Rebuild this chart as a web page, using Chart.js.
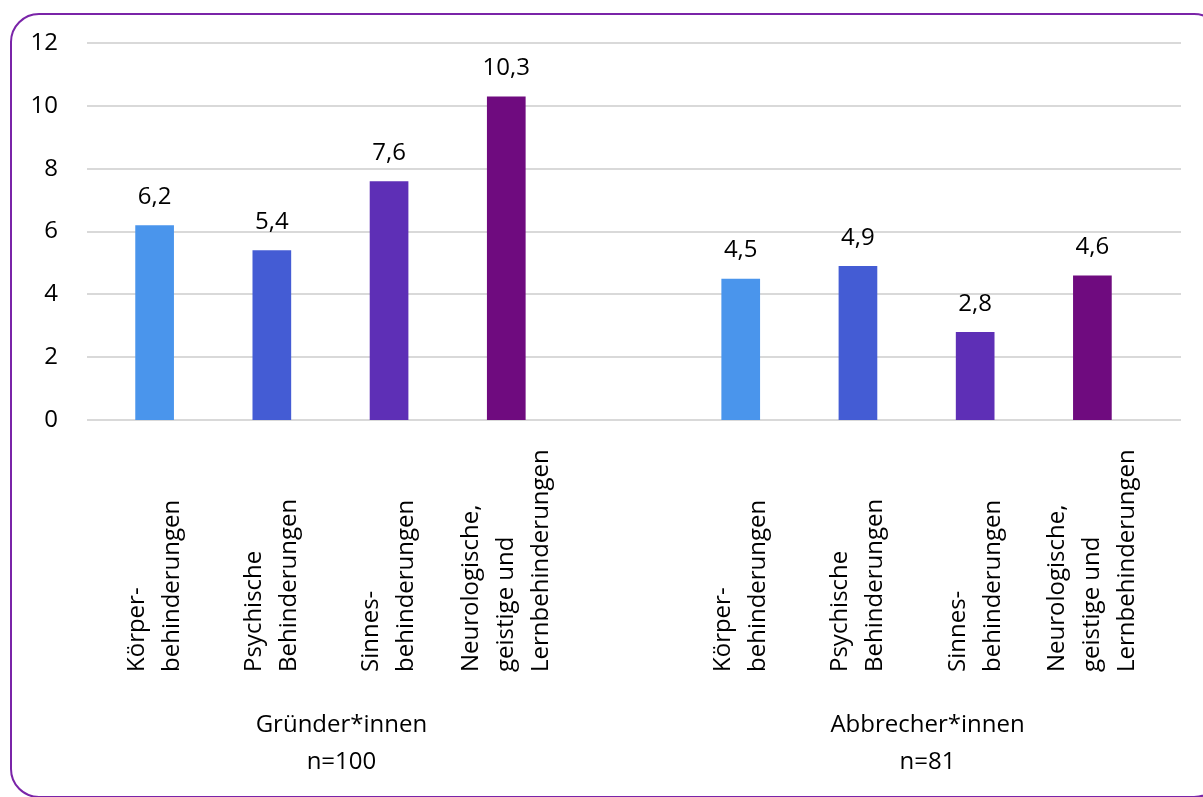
<!DOCTYPE html>
<html>
<head>
<meta charset="utf-8">
<script src="https://cdn.jsdelivr.net/npm/chart.js@4/dist/chart.umd.min.js"></script>
<style>
  html, body { margin: 0; padding: 0; background: #fff; overflow: hidden; }
  canvas { display: block; }
</style>
</head>
<body>
<canvas id="chart" width="1203" height="797"></canvas>
<script>
/* ============== Daten ===========*/
const categories = [
  ['Körper-', 'behinderungen'],
  ['Psychische', 'Behinderungen'],
  ['Sinnes-', 'behinderungen'],
  ['Neurologische,', 'geistige und', 'Lernbehinderungen']
];
const groups = [
  ['Gründer*innen', 'n=100'],
  ['Abbrecher*innen', 'n=81']
];
const gruender = [6.2, 5.4, 7.6, 10.3];
const abbrecher = [4.5, 4.9, 2.8, 4.6];
const yTicks = [0, 2, 4, 6, 8, 10, 12];
const barColors = ['#4a95ec', '#445cd4', '#5e2fb6', '#6f0b7f'];

const FONT = '"Open Sans"';
const textColor = '#000';

// ein leerer Platz zwischen den beiden Gruppen
const labels = [...categories, [''], ...categories];
const values = [...gruender, null, ...abbrecher];
const colors = [...barColors, 'rgba(0,0,0,0)', ...barColors];

/* ============== Plugins ===========*/
const frame = {
  id: 'frame',
  beforeDraw(chart) {
    const { ctx } = chart;
    ctx.save();
    ctx.strokeStyle = '#7a24a8';
    ctx.lineWidth = 2;
    ctx.beginPath();
    ctx.roundRect(11, 14, 1211, 783, 28);
    ctx.stroke();
    ctx.restore();
  }
};

const gridLines = {
  id: 'gridLines',
  beforeDatasetsDraw(chart) {
    const { ctx, chartArea, scales: { y } } = chart;
    ctx.save();
    ctx.strokeStyle = '#d9d9d9';
    ctx.lineWidth = 2;
    yTicks.forEach(t => {
      const py = Math.round(y.getPixelForValue(t));
      ctx.beginPath();
      ctx.moveTo(chartArea.left - 9, py);
      ctx.lineTo(chartArea.right + 30, py);
      ctx.stroke();
    });
    ctx.restore();
  }
};

const barLabels = {
  id: 'barLabels',
  afterDatasetsDraw(chart) {
    const { ctx } = chart;
    const meta = chart.getDatasetMeta(0);
    ctx.save();
    ctx.fillStyle = textColor;
    ctx.font = '24px ' + FONT;
    ctx.textAlign = 'center';
    ctx.textBaseline = 'middle';
    meta.data.forEach((bar, i) => {
      const v = values[i];
      if (v == null) return;
      ctx.fillText(v.toFixed(1).replace('.', ','), bar.x, bar.y - 28);
    });
    ctx.restore();
  }
};

const axisLabels = {
  id: 'axisLabels',
  afterDraw(chart) {
    const { ctx, scales: { x } } = chart;
    const lineGap = 35;
    ctx.save();
    ctx.fillStyle = textColor;
    ctx.font = '24px ' + FONT;
    labels.forEach((lines, i) => {
      if (values[i] == null) return;
      const cx = x.getPixelForValue(i);
      const n = lines.length;
      lines.forEach((line, k) => {
        ctx.save();
        ctx.translate(cx + (k - (n - 1) / 2) * lineGap, 672);
        ctx.rotate(-Math.PI / 2);
        ctx.textAlign = 'left';
        ctx.textBaseline = 'middle';
        ctx.fillText(line, 0, 0);
        ctx.restore();
      });
    });
    // Gruppenbeschriftung
    ctx.textAlign = 'center';
    ctx.textBaseline = 'middle';
    groups.forEach((g, gi) => {
      const first = gi * 5, last = first + 3;
      const cx = (x.getPixelForValue(first) + x.getPixelForValue(last)) / 2 + 11;
      g.forEach((line, k) => ctx.fillText(line, cx, 725 + k * 37));
    });
    ctx.restore();
  }
};

/* ============== Chart ===========*/
const graf = document.getElementById('chart');

const data = {
  labels,
  datasets: [{
    data: values,
    backgroundColor: colors,
    borderWidth: 0,
    categoryPercentage: 1,
    barPercentage: 0.33
  }]
};

const config = {
  type: 'bar',
  data,
  options: {
    responsive: false,
    animation: false,
    devicePixelRatio: 1,
    layout: { padding: { top: 43, right: 52, bottom: 377, left: 0 } },
    plugins: {
      legend: { display: false },
      tooltip: { enabled: false }
    },
    scales: {
      x: {
        grid: { display: false },
        border: { display: false },
        ticks: { display: false },
        afterFit: s => { s.height = 0; }
      },
      y: {
        min: 0,
        max: 12,
        grid: { display: false, drawTicks: false },
        border: { display: false },
        afterFit: s => {
          s.width = 96;
          // tick padding would otherwise push the plot top down
          s.paddingTop = 14;
          s.paddingBottom = 14;
        },
        ticks: {
          stepSize: 2,
          padding: 38,
          color: textColor,
          font: { family: FONT, size: 24 }
        }
      }
    }
  },
  plugins: [frame, gridLines, barLabels, axisLabels]
};

const myChart = new Chart(graf, config);
</script>
</body>
</html>
